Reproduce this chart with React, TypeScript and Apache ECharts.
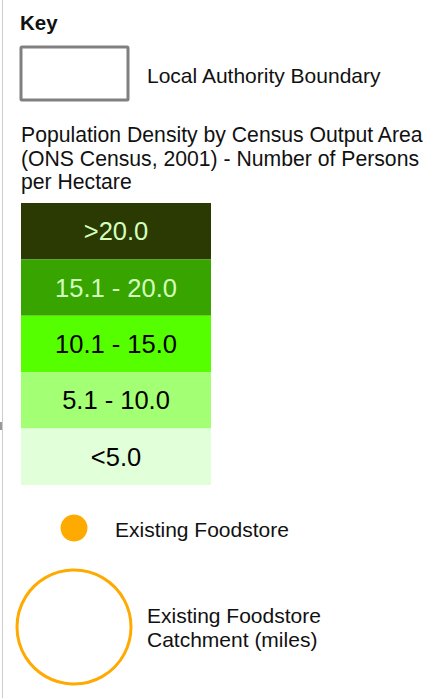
import React, { useEffect, useRef } from "react";
import * as echarts from "echarts";

const densityClasses = [">20.0", "15.1 - 20.0", "10.1 - 15.0", "5.1 - 10.0", "<5.0"];
const classColors = ["#2b3a02", "#38a400", "#55ff00", "#a3ff73", "#e1ffd9"];
const classLabelColors = ["#d3ffbe", "#d3ffbe", "#000000", "#000000", "#000000"];
const classValues = [1, 1, 1, 1, 1];

const keyTitle = "Key";
const boundaryLabel = "Local Authority Boundary";
const densityTitle = [
  "Population Density by Census Output Area",
  "(ONS Census, 2001) - Number of Persons",
  "per Hectare",
];
const foodstoreLabel = "Existing Foodstore";
const catchmentLabel = ["Existing Foodstore", "Catchment (miles)"];

const FONT = '"Liberation Sans", Arial, sans-serif';

export default function App() {
  const ref = useRef<HTMLDivElement>(null);
  useEffect(() => {
    if (!ref.current) return;
    const chart = echarts.init(ref.current, undefined, { renderer: "svg" });
    const txt = (text: string, x: number, y: number, size: number, weight = "normal") => ({
      type: "text",
      x,
      y,
      style: {
        text,
        fontSize: size,
        fontWeight: weight,
        fontFamily: FONT,
        fill: "#111",
        verticalAlign: "middle",
        align: "left",
      },
    });
    chart.setOption({
      animation: false,
      backgroundColor: "#ffffff",
      grid: { left: 21, top: 203, width: 190, height: 282, containLabel: false },
      xAxis: { type: "value", min: 0, max: 1, show: false },
      yAxis: {
        type: "category",
        data: densityClasses,
        inverse: true,
        show: false,
      },
      series: [
        {
          type: "bar",
          barWidth: "100%",
          barCategoryGap: 0,
          data: classValues.map((v, i) => ({
            value: v,
            itemStyle: { color: classColors[i] },
            label: {
              show: true,
              position: "inside",
              formatter: densityClasses[i],
              color: classLabelColors[i],
              fontSize: 25.5,
              fontFamily: FONT,
            },
          })),
        },
      ],
      graphic: [
        {
          type: "line",
          shape: { x1: 2.5, y1: 0, x2: 2.5, y2: 698 },
          style: { stroke: "#cccccc", lineWidth: 1 },
        },
        {
          type: "rect",
          shape: { x: 0, y: 422, width: 2, height: 8 },
          style: { fill: "#999999" },
        },
        txt(keyTitle, 20, 22.5, 20.5, "bold"),
        {
          type: "rect",
          shape: { x: 21, y: 47, width: 107, height: 53, r: 1 },
          style: { fill: "#ffffff", stroke: "#808080", lineWidth: 3 },
        },
        txt(boundaryLabel, 147, 75.5, 21),
        txt(densityTitle[0], 21, 134.5, 21.2),
        txt(densityTitle[1], 21, 158.5, 21.2),
        txt(densityTitle[2], 21, 181.5, 21.2),
        {
          type: "circle",
          shape: { cx: 74, cy: 528, r: 13.5 },
          style: { fill: "#ffaa00" },
        },
        txt(foodstoreLabel, 115, 529.5, 21),
        {
          type: "circle",
          shape: { cx: 74, cy: 627, r: 57 },
          style: { fill: "none", stroke: "#ffaa00", lineWidth: 3 },
        },
        txt(catchmentLabel[0], 147, 615.5, 21),
        txt(catchmentLabel[1], 147, 639.5, 21),
      ],
    });
    return () => chart.dispose();
  }, []);
  return (
    <div
      ref={ref}
      style={{ position: "absolute", left: 0, top: 0, width: 446, height: 698 }}
    />
  );
}
